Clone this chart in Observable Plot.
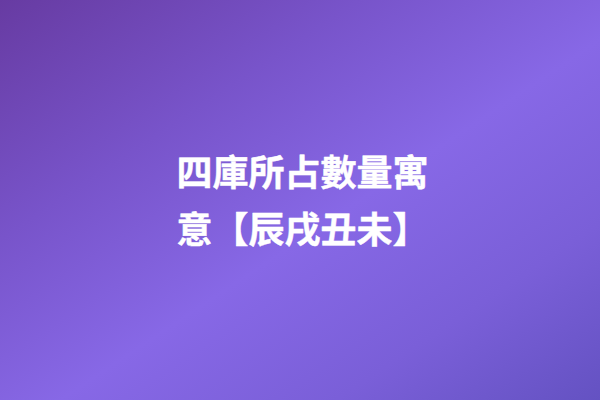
<!DOCTYPE html>
<html>
<head>
<meta charset="utf-8">
<script src="https://cdn.jsdelivr.net/npm/d3@7"></script>
<script src="https://cdn.jsdelivr.net/npm/@observablehq/plot@0.6"></script>
<style>
  html, body { margin: 0; padding: 0; }
  body { width: 600px; height: 400px; overflow: hidden; }
</style>
</head>
<body>
<div id="chart"></div>
<script>
// Title lines shown on the card
const lines = ["四庫所占數量寓", "意【辰戌丑未】"];
const lineIndex = [0, 1];

const data = lines.map((t, i) => ({ text: t, row: lineIndex[i] }));

const plot = Plot.plot({
  width: 600,
  height: 400,
  margin: 0,
  x: { domain: [0, 1], range: [176, 600], axis: null },
  y: { domain: [0, 1], range: [174, 231], axis: null },
  style: {
    background: "linear-gradient(to bottom right, #673ba2 0%, #7854ca 30%, #8768e6 55%, #7a5fd8 78%, #6452c2 100%)",
    fontFamily: "'Noto Sans CJK TC', 'Noto Sans CJK SC', sans-serif"
  },
  marks: [
    Plot.text(data, {
      x: () => 0,
      y: "row",
      text: "text",
      textAnchor: "start",
      fill: "white",
      stroke: "white",
      strokeWidth: 0.45,
      fontSize: 36,
      fontWeight: "bold"
    })
  ]
});
document.getElementById("chart").appendChild(plot);
</script>
</body>
</html>
